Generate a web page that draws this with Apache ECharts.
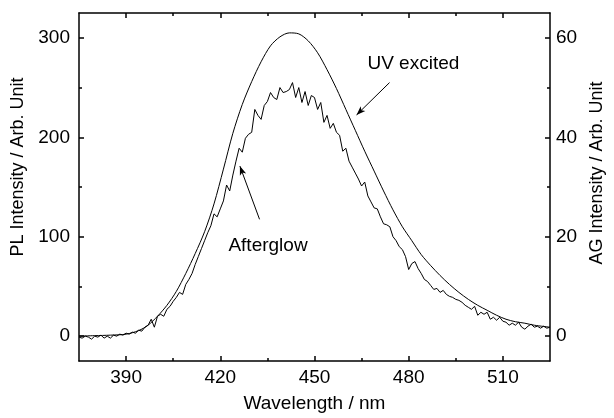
<!DOCTYPE html>
<html><head><meta charset="utf-8">
<script src="https://cdn.jsdelivr.net/npm/echarts@6/dist/echarts.min.js"></script>
<style>html,body{margin:0;padding:0;background:#fff}#c{width:614px;height:418px}</style>
</head><body><div id="c"></div><script>
// UV excited PL spectrum (left axis)
const uvWavelength = [375,380,385,390,394,397,400,403,406,409,412,415,418,421,424,427,430,433,436,439,442,445,448,451,454,457,460,463,466,469,472,475,478,481,484,487,490,493,496,499,502,505,508,511,514,517,520,525];
const uvIntensity  = [0,0.5,1,2,5.6,11,20,31,45,63,83,105,133,168,204,233,256,276,292,301,305,304,297,285,268,249,228,207,186,166,146,127,110,96,82,71,61,52,44,37,31,26,21,17,14.5,13,11,9];
// Afterglow spectrum (right axis)
const agWavelength = [375,376,377,378,379,380,381,382,383,384,385,386,387,388,389,390,391,392,393,394,395,396,397,398,399,400,401,402,403,404,405,406,407,408,409,410,411,412,413,414,415,416,417,418,419,420,421,422,423,424,425,426,427,428,429,430,431,432,433,434,435,436,437,438,439,440,441,442,443,444,445,446,447,448,449,450,451,452,453,454,455,456,457,458,459,460,461,462,463,464,465,466,467,468,469,470,471,472,473,474,475,476,477,478,479,480,481,482,483,484,485,486,487,488,489,490,491,492,493,494,495,496,497,498,499,500,501,502,503,504,505,506,507,508,509,510,511,512,513,514,515,516,517,518,519,520,521,522,523,524,525];
const agIntensity = [-0.2,-0.4,0,-0.2,-0.6,0,-0.2,0.2,-0.4,0,
  -0.4,0.2,0,0.4,0.2,0.6,0.4,0.8,0.6,1.2,
  1,1.8,2.2,3.4,1.8,4,4.4,4,5.4,6,
  7,7.8,8.8,8.4,10.4,11.4,12.6,14.4,16,17.6,
  19.2,20.8,22.2,24.6,24,25.6,27.2,30.4,29.2,32.4,
  35.2,37.8,37,39.8,40.6,41,45.6,44.4,43.6,46.4,
  47.2,49,48,47.6,50,49,49.2,49.6,51,48,
  50,47,49.2,46.4,48.4,48,45.6,47,43,44.4,
  41.8,42.8,41,40.4,37.2,37.8,35.2,34,32.8,31.6,
  30.2,31,28.2,27,25.8,25.6,24,22.6,22.4,22,
  20,19.2,18,17.4,16,13.4,14.6,15,13.6,12.6,
  11.4,11,10.2,9.4,9.6,8.8,9.2,8.4,8,7.8,
  7.4,7.2,6.8,6.2,5.8,5.4,6,4.2,4.8,4.4,
  4.8,3.4,3.8,3.2,3.8,3,2.8,2.2,2.6,2.2,
  2.8,1.8,1.4,2,2.4,1.8,2,1.6,2,1.6,
  1.8];
// Tick values
const xMajorTicks = [390,420,450,480,510];
const xMinorTicks = [405,435,465,495];
const plMajorTicks = [0,100,200,300];
const plMinorTicks = [50,150,250];
const agMajorTicks = [0,20,40,60];
const agMinorTicks = [10,30,50];
// Annotations
const uvLabel = 'UV excited';
const agLabel = 'Afterglow';

const FONT = '"Liberation Sans", Arial, sans-serif';
const BLACK = '#000';
const txt = {color: BLACK, fontSize: 19, fontFamily: FONT};

function makeX(position, ticks, tickLen, showLine, showLabels, extra) {
  return Object.assign({
    type: 'value', position, min: 375, max: 525, gridIndex: 0,
    axisLine: {show: showLine, onZero: false, lineStyle: {color: BLACK, width: 1.5}},
    axisTick: {show: true, inside: true, length: tickLen, customValues: ticks, lineStyle: {color: BLACK, width: 1.5}},
    axisLabel: showLabels ? Object.assign({show: true, customValues: ticks, margin: 7}, txt) : {show: false},
    splitLine: {show: false}
  }, extra || {});
}
function makeY(position, min, max, ticks, tickLen, showLine, showLabels, extra) {
  return Object.assign({
    type: 'value', position, min, max, gridIndex: 0,
    axisLine: {show: showLine, onZero: false, lineStyle: {color: BLACK, width: 1.5}},
    axisTick: {show: true, inside: true, length: tickLen, customValues: ticks, lineStyle: {color: BLACK, width: 1.5}},
    axisLabel: showLabels ? Object.assign({show: true, customValues: ticks, margin: position === 'left' ? 9 : 6}, txt) : {show: false},
    splitLine: {show: false}
  }, extra || {});
}

const chart = echarts.init(document.getElementById('c'));
chart.setOption({
  animation: false,
  backgroundColor: '#fff',
  grid: {left: 79, right: 55, top: 13, bottom: 52, containLabel: false},
  xAxis: [
    makeX('bottom', xMajorTicks, 5, true, true, {name: 'Wavelength / nm', nameLocation: 'middle', nameGap: 33, nameTextStyle: txt}),
    makeX('bottom', xMinorTicks, 3, false, false),
    makeX('top', xMajorTicks, 5, true, false),
    makeX('top', xMinorTicks, 3, false, false)
  ],
  yAxis: [
    makeY('left', -25, 325, plMajorTicks, 5, true, true, {name: 'PL Intensity / Arb. Unit', nameLocation: 'middle', nameGap: 51,
      nameTextStyle: Object.assign({}, txt, {fontSize: 18, padding: [0, 0, 0, 40]})}),
    makeY('left', -25, 325, plMinorTicks, 3, false, false),
    makeY('right', -5, 65, agMajorTicks, 5, true, true, {name: 'AG Intensity / Arb. Unit', nameLocation: 'middle', nameGap: 33,
      nameTextStyle: Object.assign({}, txt, {fontSize: 18, padding: [0, 0, 0, 28]})}),
    makeY('right', -5, 65, agMinorTicks, 3, false, false)
  ],
  series: [
    {
      type: 'line', name: uvLabel, xAxisIndex: 0, yAxisIndex: 0,
      data: uvWavelength.map((w, i) => [w, uvIntensity[i]]),
      symbol: 'none', smooth: 0.3, clip: true,
      lineStyle: {color: BLACK, width: 1},
      markLine: {
        silent: true, symbol: ['none', 'arrow'], symbolSize: [5, 9],
        lineStyle: {color: BLACK, width: 1, type: 'solid'}, label: {show: false},
        data: [[{coord: [473.9, 255]}, {coord: [463.4, 222.5]}]]
      },
      markPoint: {
        silent: true, symbol: 'circle', symbolSize: 0,
        label: Object.assign({show: true, position: 'inside', formatter: uvLabel}, txt),
        data: [{coord: [481.5, 274]}]
      }
    },
    {
      type: 'line', name: agLabel, xAxisIndex: 0, yAxisIndex: 2,
      data: agWavelength.map((w, i) => [w, agIntensity[i]]),
      symbol: 'none', clip: true,
      lineStyle: {color: BLACK, width: 1},
      markLine: {
        silent: true, symbol: ['none', 'arrow'], symbolSize: [5, 9],
        lineStyle: {color: BLACK, width: 1, type: 'solid'}, label: {show: false},
        data: [[{coord: [432.5, 23.5]}, {coord: [426.25, 34.2]}]]
      },
      markPoint: {
        silent: true, symbol: 'circle', symbolSize: 0,
        label: Object.assign({show: true, position: 'inside', formatter: agLabel}, txt),
        data: [{coord: [435.2, 18.2]}]
      }
    }
  ]
});
</script></body></html>
